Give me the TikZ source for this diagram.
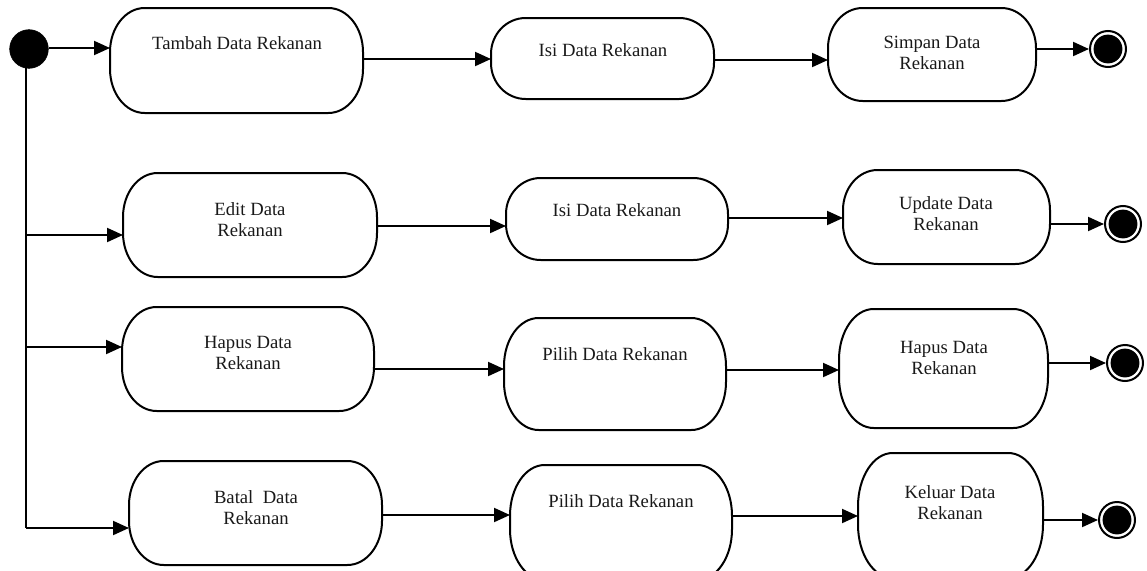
\documentclass[tikz,border=0pt]{standalone}
\usepackage{fontspec}
\setmainfont{Liberation Serif}
\usetikzlibrary{arrows.meta,fit}

\tikzset{
  px/.style={x=0.75pt,y=-0.75pt},
  edge/.style={line width=1.5pt,black},
  flow/.style={edge,-{Triangle[length=12pt,width=10.5pt]}},
  area/.style={inner sep=0pt,outer sep=0pt,draw=none},
  lbl/.style={align=center,font=\fontsize{14}{15.8}\selectfont,text=black!90,inner sep=0pt},
  startstate/.style={circle,fill=black,draw=black,minimum size=29pt,inner sep=0pt},
  endstate/.style={circle,draw=black,line width=1.5pt,fill=white,minimum size=27pt,inner sep=0pt,
    path picture={\fill[black] (path picture bounding box.center) circle (10.8pt);}}
}

% activity outline with elliptic corners: node, x radius, y radius
\newcommand\actoutline[3]{%
  \draw[edge] ([xshift=#2]#1.north west) -- ([xshift=-#2]#1.north east)
    arc[start angle=90,end angle=0,x radius=#2,y radius=#3]
    -- ([yshift=#3]#1.south east)
    arc[start angle=0,end angle=-90,x radius=#2,y radius=#3]
    -- ([xshift=#2]#1.south west)
    arc[start angle=270,end angle=180,x radius=#2,y radius=#3]
    -- ([yshift=-#3]#1.north west)
    arc[start angle=180,end angle=90,x radius=#2,y radius=#3]
    -- cycle;}

% activity: name, x1, y1, x2, y2, y radius (pt)
\newcommand\activity[6]{%
  \node[area,fit={(#2,#3) (#4,#5)}] (#1) {};
  \actoutline{#1}{26pt}{#6}}

\begin{document}
\begin{tikzpicture}[px]
\useasboundingbox (0,0) rectangle (1147,571);
\clip (0,0) rectangle (1147,571);

% row 1
\activity{tambah}{110}{8}{363}{113}{33pt}
\activity{isiA}{491}{18}{714}{99}{27pt}
\activity{simpan}{828}{8}{1036}{101}{30pt}
% row 2
\activity{edit}{123}{173}{377}{277}{33pt}
\activity{isiB}{506}{178}{728}{260}{27pt}
\activity{update}{843}{170}{1050}{264}{30pt}
% row 3
\activity{hapusA}{122}{307}{374}{411}{33pt}
\activity{pilihA}{504}{318}{726}{430}{36pt}
\activity{hapusB}{839}{309}{1048}{428}{38pt}
% row 4
\activity{batal}{129}{461}{382}{565}{33pt}
\activity{pilihB}{510}{465}{732}{580}{38pt}
\activity{keluar}{858}{453}{1043}{578}{40pt}

% labels
\node[lbl] (tambahT) at (237,43) {Tambah Data Rekanan};
\node[lbl] (isiAT) at (603,50) {Isi Data Rekanan};
\node[lbl] (simpanT) at (932,53) {Simpan Data\\Rekanan};
\node[lbl] (editT) at (250,220) {Edit Data\\Rekanan};
\node[lbl] (isiBT) at (617,210) {Isi Data Rekanan};
\node[lbl] (updateT) at (946,214) {Update Data\\Rekanan};
\node[lbl] (hapusAT) at (248,353) {Hapus Data\\Rekanan};
\node[lbl] (pilihAT) at (615,354) {Pilih Data Rekanan};
\node[lbl] (hapusBT) at (944,358) {Hapus Data\\Rekanan};
\node[lbl] (batalT) at (256,508) {Batal~~Data\\Rekanan};
\node[lbl] (pilihBT) at (621,501) {Pilih Data Rekanan};
\node[lbl] (keluarT) at (950,503) {Keluar Data\\Rekanan};

% initial and final states
\node[startstate] (start) at (29,49) {};
\node[endstate] (endA) at (1108,49) {};
\node[endstate] (endB) at (1123,224) {};
\node[endstate] (endC) at (1125,363) {};
\node[endstate] (endD) at (1117,520) {};

% trunk from the initial state
\coordinate (trunkTop) at (26,60);
\coordinate (trunkBot) at (26,528);
\draw[edge] (trunkTop) -- (trunkBot);
\draw[flow] (start.east |- 0,48) -- (tambah.west |- 0,48);
\draw[flow] (trunkTop |- 0,235) -- (edit.west |- 0,235);
\draw[flow] (trunkTop |- 0,347) -- (hapusA.west |- 0,347);
\draw[flow] (trunkBot) -- (batal.west |- trunkBot);

% row 1 flow
\draw[flow] (tambah.east |- 0,59) -- (isiA.west |- 0,59);
\draw[flow] (isiA.east |- 0,60) -- (simpan.west |- 0,60);
\draw[flow] (simpan.east |- endA) -- (endA);
% row 2 flow
\draw[flow] (edit.east |- 0,226) -- (isiB.west |- 0,226);
\draw[flow] (isiB.east |- 0,218) -- (update.west |- 0,218);
\draw[flow] (update.east |- endB) -- (endB);
% row 3 flow
\draw[flow] (hapusA.east |- 0,369) -- (pilihA.west |- 0,369);
\draw[flow] (pilihA.east |- 0,370) -- (hapusB.west |- 0,370);
\draw[flow] (hapusB.east |- endC) -- (endC);
% row 4 flow
\draw[flow] (batal.east |- 0,515) -- (pilihB.west |- 0,515);
\draw[flow] (pilihB.east |- 0,516) -- (keluar.west |- 0,516);
\draw[flow] (keluar.east |- endD) -- (endD);
\end{tikzpicture}
\end{document}
